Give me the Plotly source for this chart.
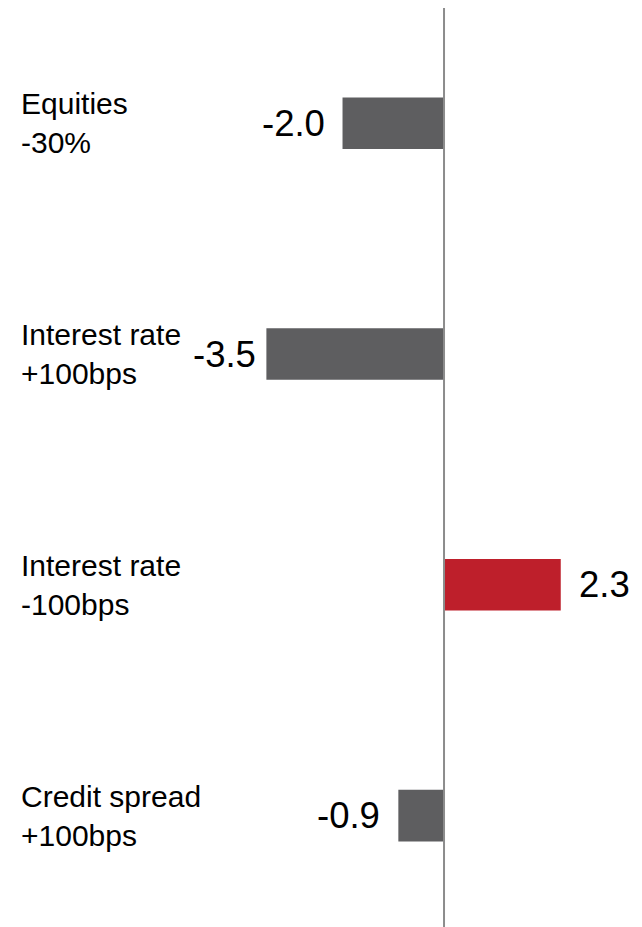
import plotly.graph_objects as go

# Stress scenarios and their impact
scenarios = ["Equities<br>-30%", "Interest rate<br>+100bps", "Interest rate<br>-100bps", "Credit spread<br>+100bps"]
impacts = [-2.0, -3.5, 2.3, -0.9]
value_labels = ["-2.0", "-3.5", "2.3", "-0.9"]
label_gaps = [16, 8, 16, 16]

GREY = "#5e5e60"
RED = "#be1f2b"
colors = [RED if v > 0 else GREY for v in impacts]
positions = list(range(len(scenarios)))

FONT = "Liberation Sans, Arial, sans-serif"

fig = go.Figure(
    go.Bar(
        x=impacts,
        y=positions,
        orientation="h",
        width=0.224,
        marker=dict(color=colors, line=dict(width=0)),
        hoverinfo="skip",
    )
)

# value labels beside each bar
for pos, v, txt, gap in zip(positions, impacts, value_labels, label_gaps):
    fig.add_annotation(
        x=v, y=pos, xref="x", yref="y",
        text=txt, showarrow=False,
        xanchor="left" if v > 0 else "right", yanchor="middle",
        xshift=gap if v > 0 else -gap,
        font=dict(family=FONT, size=36.5, color="black"),
    )

# scenario names on the left
for pos, name in zip(positions, scenarios):
    fig.add_annotation(
        x=0.03, y=pos, xref="paper", yref="y",
        text=name, showarrow=False, align="left",
        xanchor="left", yanchor="middle",
        font=dict(family=FONT, size=30, color="black"),
    )

# zero axis line
fig.add_shape(
    type="line", xref="x", yref="paper",
    x0=0, x1=0, y0=0, y1=0.9914,
    line=dict(color="#8c8c8c", width=2),
)

fig.update_layout(
    width=642, height=927,
    margin=dict(l=0, r=0, t=0, b=0),
    paper_bgcolor="white", plot_bgcolor="white",
    showlegend=False,
    xaxis=dict(range=[-8.749, 3.901], visible=False, fixedrange=True),
    yaxis=dict(range=[3.483, -0.534], visible=False, fixedrange=True),
)

fig.write_html("out.html", config={"displayModeBar": False})
